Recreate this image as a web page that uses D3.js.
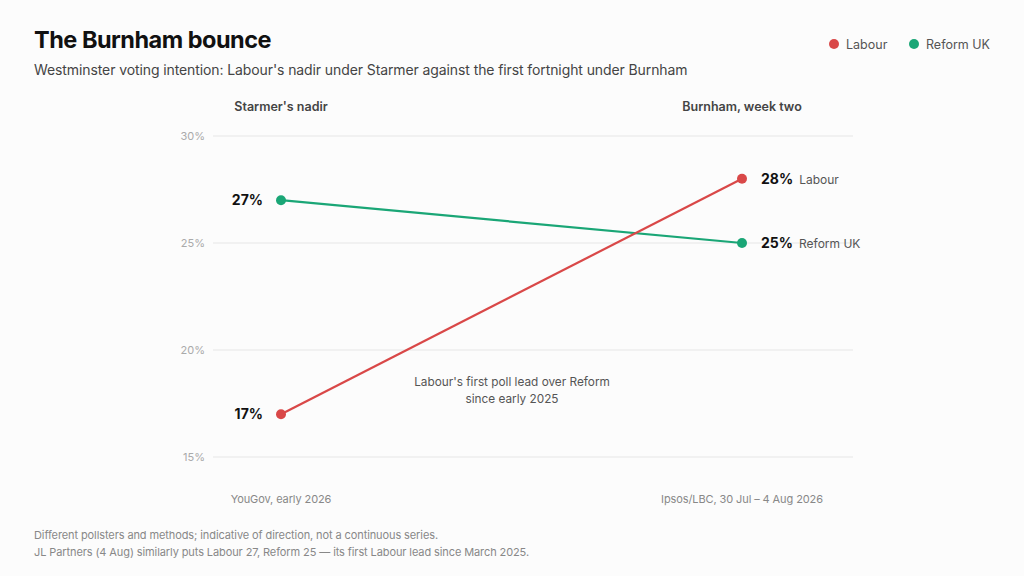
<!DOCTYPE html>
<html>
<head>
<meta charset="utf-8">
<script src="https://cdn.jsdelivr.net/npm/d3@7"></script>
<style>
  html, body { margin: 0; padding: 0; background: #fcfcfc; }
  svg { display: block; font-family: Inter, "Noto Sans", sans-serif; }
</style>
</head>
<body>
<svg id="chart"></svg>
<script>
// Data
const periods = ["Starmer's nadir", "Burnham, week two"];
const pollsters = ["YouGov, early 2026", "Ipsos/LBC, 30 Jul \u2013 4 Aug 2026"];
const seriesNames = ["Labour", "Reform UK"];
const labourValues = [17, 28];
const reformValues = [27, 25];
const yTicks = [15, 20, 25, 30];
const colors = { "Labour": "#d94848", "Reform UK": "#1aa676" };

const width = 1024, height = 576;
const svg = d3.select("#chart").attr("width", width).attr("height", height);

svg.append("rect").attr("width", width).attr("height", height).attr("fill", "#fcfcfc");

// Title + subtitle
svg.append("text")
  .attr("x", 34).attr("y", 48)
  .attr("font-size", 23.5).attr("font-weight", 700).attr("fill", "#111")
  .attr("letter-spacing", "-0.5")
  .text("The Burnham bounce");

svg.append("text")
  .attr("x", 34).attr("y", 75)
  .attr("font-size", 14).attr("fill", "#444")
  .attr("letter-spacing", "-0.1")
  .text("Westminster voting intention: Labour's nadir under Starmer against the first fortnight under Burnham");

// Legend
const legend = svg.append("g").attr("transform", "translate(834,44)");
seriesNames.forEach((name, i) => {
  const item = legend.append("g").attr("transform", `translate(${i === 0 ? 0 : 80},0)`);
  item.append("circle").attr("r", 5).attr("fill", colors[name]);
  item.append("text").attr("x", 12).attr("y", 4.5)
    .attr("font-size", 12.5).attr("fill", "#555").text(name);
});

// Scales
const x = d3.scalePoint().domain(periods).range([281, 742]);
const y = d3.scaleLinear().domain([15, 30]).range([457, 136]);

// Grid + y tick labels
const grid = svg.append("g");
grid.selectAll("line").data(yTicks).enter().append("line")
  .attr("x1", 213).attr("x2", 853)
  .attr("y1", d => y(d)).attr("y2", d => y(d))
  .attr("stroke", "#e6e6e6").attr("stroke-width", 1);
grid.selectAll("text").data(yTicks).enter().append("text")
  .attr("x", 205).attr("y", d => y(d) + 4)
  .attr("text-anchor", "end")
  .attr("font-size", 11).attr("fill", "#aaa")
  .text(d => d + "%");

// Column headers
svg.selectAll(".col-head").data(periods).enter().append("text")
  .attr("class", "col-head")
  .attr("x", d => x(d)).attr("y", 111)
  .attr("text-anchor", "middle")
  .attr("font-size", 12.5).attr("font-weight", 600).attr("fill", "#444")
  .text(d => d);

// Pollster labels under the columns
svg.selectAll(".pollster").data(pollsters).enter().append("text")
  .attr("class", "pollster")
  .attr("x", (d, i) => x(periods[i])).attr("y", 503)
  .attr("text-anchor", "middle")
  .attr("font-size", 11).attr("fill", "#888")
  .attr("letter-spacing", "-0.1")
  .text(d => d);

// Annotation
const note = svg.append("text")
  .attr("text-anchor", "middle")
  .attr("font-size", 11.8).attr("fill", "#555");
note.append("tspan").attr("x", 512).attr("y", 386).text("Labour's first poll lead over Reform");
note.append("tspan").attr("x", 512).attr("y", 403).text("since early 2025");

// Series lines
const series = [
  { name: "Labour", values: labourValues },
  { name: "Reform UK", values: reformValues }
];

const line = d3.line()
  .x((d, i) => x(periods[i]))
  .y(d => y(d));

// Reform drawn first so Labour crosses on top
[series[1], series[0]].forEach(s => {
  svg.append("path")
    .datum(s.values)
    .attr("fill", "none")
    .attr("stroke", colors[s.name])
    .attr("stroke-width", 2.2)
    .attr("d", line);

  svg.selectAll(null).data(s.values).enter().append("circle")
    .attr("cx", (d, i) => x(periods[i]))
    .attr("cy", d => y(d))
    .attr("r", 5)
    .attr("fill", colors[s.name]);
});

// Value labels
series.forEach(s => {
  // left side
  svg.append("text")
    .attr("x", x(periods[0]) - 18).attr("y", y(s.values[0]) + 5)
    .attr("text-anchor", "end")
    .attr("font-size", 14).attr("font-weight", 700).attr("fill", "#111")
    .text(s.values[0] + "%");
  // right side with series name
  const t = svg.append("text")
    .attr("x", x(periods[1]) + 19).attr("y", y(s.values[1]) + 5);
  t.append("tspan")
    .attr("font-size", 14).attr("font-weight", 700).attr("fill", "#111")
    .text(s.values[1] + "%");
  t.append("tspan")
    .attr("dx", 6)
    .attr("font-size", 12).attr("fill", "#555")
    .text(s.name);
});

// Footnotes
const foot = svg.append("g").attr("font-size", 11).attr("fill", "#888").attr("letter-spacing", "-0.1");
foot.append("text").attr("x", 34).attr("y", 539)
  .text("Different pollsters and methods; indicative of direction, not a continuous series.");
foot.append("text").attr("x", 34).attr("y", 556)
  .text("JL Partners (4 Aug) similarly puts Labour 27, Reform 25 \u2014 its first Labour lead since March 2025.");
</script>
</body>
</html>
